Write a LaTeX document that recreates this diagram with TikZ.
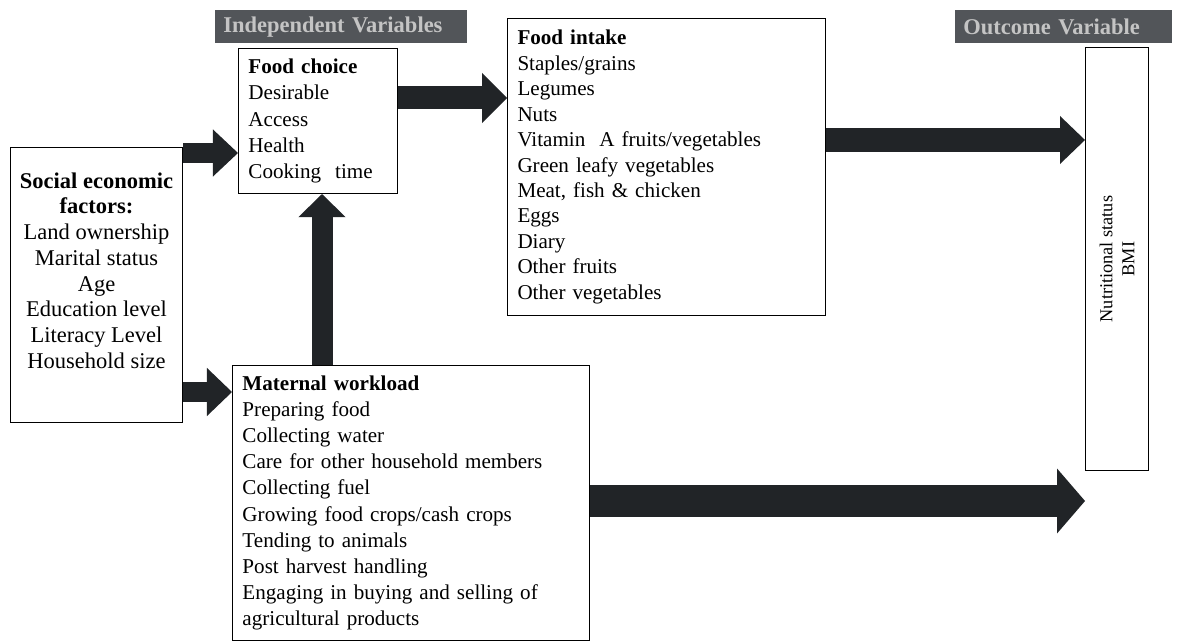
\documentclass[tikz,border=0pt]{standalone}
\usepackage{fontspec}
\setmainfont{Liberation Serif}
\usetikzlibrary{calc, arrows.meta}

\definecolor{headbg}{RGB}{82,85,89}
\definecolor{headfg}{RGB}{196,196,196}
\definecolor{arrowdark}{RGB}{33,36,39}

\tikzset{
    box/.style={draw, line width=0.7pt, anchor=north west, inner xsep=0.25cm, inner ysep=0pt, align=left},
    headbar/.style={fill=headbg, text=headfg, anchor=north west, inner xsep=0.2cm, inner ysep=0pt,
        minimum height=0.825cm, align=left, font=\fontsize{16}{18}\selectfont\bfseries},
    fat/.style n args={3}{draw=arrowdark, line width=#1,
        -{Triangle[length=#3, width=#2, line width=0pt]}}
}

\begin{document}
\begin{tikzpicture}[x=0.025cm, y=-0.025cm]
    \useasboundingbox[fill=white] (0,0) rectangle (1181,642);

    % Tiêu đề
    \node[headbar, text width=5.9cm] (headind) at (215,10) {Independent Variables};
    \node[headbar, text width=5.025cm] (headout) at (955,10) {Outcome Variable};

    % Các hộp
    \node[box, minimum width=4.3cm, minimum height=6.875cm] (soc) at (10,147) {};
    \node[align=center, font=\fontsize{16}{18.3}\selectfont] (soctext) at ([yshift=0.36cm]soc.center)
        {\textbf{Social economic}\\ \textbf{factors:}\\ Land ownership\\ Marital status\\ Age\\
         Education level\\ Literacy Level\\ Household size};

    \node[box, text width=3.475cm, minimum height=3.625cm, font=\fontsize{15}{18.8}\selectfont] (choice) at (238,48)
        {\textbf{Food choice}\\ Desirable\\ Access\\ Health\\ Cooking\ \ time};

    \node[box, text width=7.45cm, minimum height=7.425cm, font=\fontsize{15}{18.1}\selectfont] (intake) at (507,18)
        {\textbf{Food intake}\\ Staples/grains\\ Legumes\\ Nuts\\ Vitamin\ \ A fruits/vegetables\\
         Green leafy vegetables\\ Meat, fish \& chicken\\ Eggs\\ Diary\\ Other fruits\\ Other vegetables};

    \node[box, text width=8.425cm, minimum height=6.875cm, font=\fontsize{15}{18.6}\selectfont] (maternal) at (232,365)
        {\textbf{Maternal workload}\\ Preparing food\\ Collecting water\\ Care for other household members\\
         Collecting fuel\\ Growing food crops/cash crops\\ Tending to animals\\ Post harvest handling\\
         Engaging in buying and selling of\\ agricultural products};

    \node[box, minimum width=1.575cm, minimum height=10.575cm, inner xsep=0pt] (outcome) at (1085,47) {};
    \node[rotate=90, align=center, font=\fontsize{13}{15.6}\selectfont] (outtext) at (outcome.center)
        {Nutritional status\\ BMI};

    % Mũi tên
    \coordinate (c1) at ($(choice.north west)+(0,105)$);
    \coordinate (c2) at ($(maternal.north west)+(0,27)$);
    \coordinate (c3) at ($(intake.north west)+(0,80)$);
    \coordinate (c4) at ($(choice.south west)+(84,0)$);
    \coordinate (c5) at ($(outcome.north west)+(0,93)$);
    \coordinate (c6) at ($(outcome.north west)+(0,454)$);

    \draw[fat={0.5cm}{1.175cm}{0.625cm}] (soc.east |- c1) -- (c1);
    \draw[fat={0.5cm}{1.2cm}{0.625cm}] (soc.east |- c2) -- (c2);
    \draw[fat={0.575cm}{1.25cm}{0.625cm}] (choice.east |- c3) -- (c3);
    \draw[fat={0.525cm}{1.175cm}{0.575cm}] (c4 |- maternal.north) -- (c4);
    \draw[fat={0.6cm}{1.2cm}{0.625cm}] (intake.east |- c5) -- (c5);
    \draw[fat={0.775cm}{1.625cm}{0.7cm}] (maternal.east |- c6) -- (c6);
\end{tikzpicture}
\end{document}
